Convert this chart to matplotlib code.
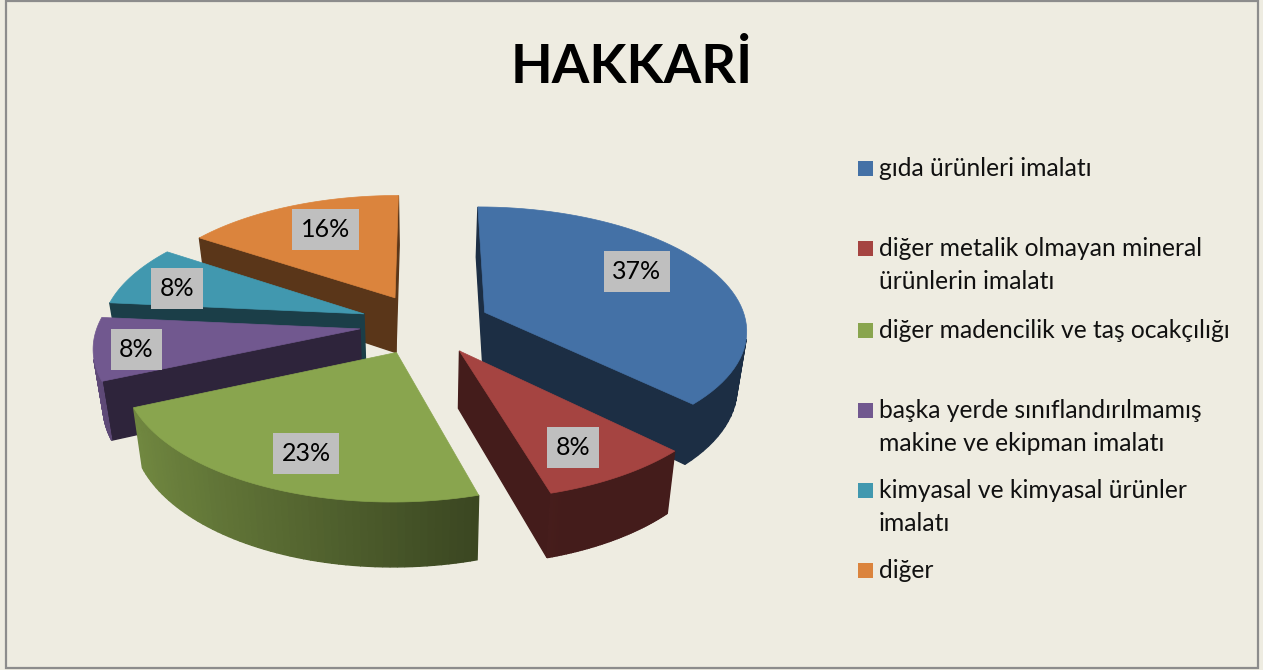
# plot.py
# HAKKARI sector shares as an exploded 3D style pie

import numpy as np
import matplotlib
matplotlib.use('Agg')
import matplotlib.pyplot as plt
from matplotlib.patches import Polygon, Rectangle

title = "HAKKARİ"
values = [37.4, 8.1, 22.9, 8.1, 7.9, 15.6]
colors = ['#4471A6', '#A54441', '#89A54E', '#71588F', '#4198AF', '#DB843D']
legend_labels = [
    ["gıda ürünleri imalatı"],
    ["diğer metalik olmayan mineral", "ürünlerin imalatı"],
    ["diğer madencilik ve taş ocakçılığı"],
    ["başka yerde sınıflandırılmamış", "makine ve ekipman imalatı"],
    ["kimyasal ve kimyasal ürünler", "imalatı"],
    ["diğer"],
]

# layout, in pixels
BG = '#EEECE1'
CX, CY = 425, 324
RX, TILT = 262, 122 / 262
PERSP = 0.13
EXPLODE = 0.25
DEPTH, BOTTOM_KX, BOTTOM_KY = 56, 0.97, 1.05
draw_order = [5, 4, 0, 3, 1, 2]
label_r = [0.64, 0.72, 0.80, 0.87, 0.74, 0.62]
label_shift = [(6, -12), (2, 9), (14, -3), (8, 3), (-14, 3), (-2, -9)]
legend_y = [176, 256, 338, 418, 498, 578]
line_gap = 33


def project(x, y, bottom=False):
    s = 1 / (1 + PERSP * y)
    px = RX * x * s
    py = -RX * TILT * y * s
    if bottom:
        return CX + px * BOTTOM_KX, CY + py * BOTTOM_KY + DEPTH
    return CX + px, CY + py


def shade(color, k):
    rgb = np.array(matplotlib.colors.to_rgb(color))
    return tuple(np.clip(rgb * k, 0, 1))


def facing_viewer(quad):
    x, y = np.array(quad).T
    return np.sum(x * np.roll(y, -1) - np.roll(x, -1) * y) < 0


def draw_wall(ax, a, b, color, k):
    quad = [project(*a), project(*b), project(*b, True), project(*a, True)]
    if facing_viewer(quad):
        c = shade(color, k)
        ax.add_patch(Polygon(quad, fc=c, ec=c, lw=1.0))


def draw_slice(ax, start, end, color):
    mid = (start + end) / 2
    ox, oy = EXPLODE * np.sin(mid), EXPLODE * np.cos(mid)
    angles = np.linspace(start, end, 60)
    rim = [(ox + np.sin(t), oy + np.cos(t)) for t in angles]
    apex = (ox, oy)

    draw_wall(ax, apex, rim[0], color, 0.41)
    draw_wall(ax, rim[-1], apex, color, 0.41)
    for a, b, t in zip(rim[:-1], rim[1:], angles[:-1]):
        k = max(0.41, 0.52 - 0.33 * np.sin(t))
        draw_wall(ax, a, b, color, k)

    top = [project(*apex)] + [project(*p) for p in rim]
    ax.add_patch(Polygon(top, fc=color, ec=color, lw=0.5))


def main():
    fig = plt.figure(figsize=(12.63, 6.70), dpi=100, facecolor=BG)
    ax = fig.add_axes([0, 0, 1, 1])
    ax.set_xlim(0, 1263)
    ax.set_ylim(670, 0)
    ax.axis('off')
    plt.rcParams['font.family'] = ['Lato', 'DejaVu Sans']

    ax.add_patch(Rectangle((6, 1), 1252, 667, fc=BG, ec='#8C8C8C', lw=1.6))
    ax.text(632, 83, title, ha='center', va='baseline', fontsize=39,
            fontweight='bold', color='black')

    edges = np.cumsum([0] + values) / sum(values) * 2 * np.pi
    for i in draw_order:
        draw_slice(ax, edges[i], edges[i + 1], colors[i])

    # percent boxes on top of the slices
    renderer = fig.canvas.get_renderer()
    for i, v in enumerate(values):
        mid = (edges[i] + edges[i + 1]) / 2
        x = (EXPLODE + label_r[i]) * np.sin(mid)
        y = (EXPLODE + label_r[i]) * np.cos(mid)
        px, py = project(x, y)
        px, py = px + label_shift[i][0], py + label_shift[i][1]
        t = ax.text(px, py, f"{v:.0f}%", ha='center', va='center', fontsize=18,
                    color='black', zorder=4)
        w = t.get_window_extent(renderer).width + 17
        ax.add_patch(Rectangle((px - w / 2, py - 20.5), w, 41, fc='#BFBFBF', ec='none', zorder=3))

    for lines, y, c in zip(legend_labels, legend_y, colors):
        ax.add_patch(Rectangle((858, y - 15), 15, 15, fc=c, ec='none'))
        for n, line in enumerate(lines):
            ax.text(879, y + n * line_gap, line, ha='left', va='baseline',
                    fontsize=17.7, color='#111111')

    fig.savefig('out.png', dpi=100, facecolor=BG)


if __name__ == '__main__':
    main()
